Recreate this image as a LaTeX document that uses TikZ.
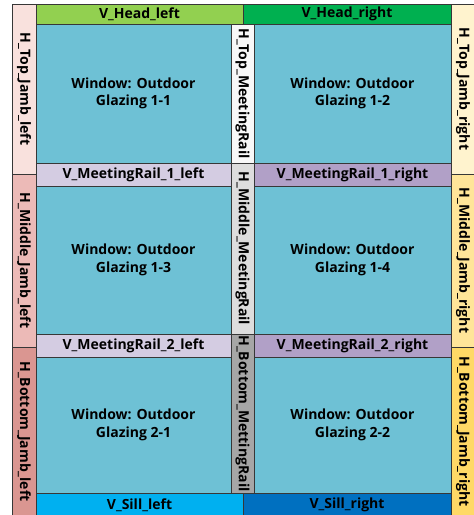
\documentclass[tikz,border=0pt]{standalone}
\usepackage{fontspec}
\usepackage{xcolor}
\usepackage{tikz}
\usetikzlibrary{positioning}
\newfontfamily\cellfont{Open Sans}
\definecolor{glass}{RGB}{110, 193, 213}
\definecolor{edgegray}{RGB}{55, 55, 55}
\definecolor{headleft}{RGB}{146, 208, 80}
\definecolor{headright}{RGB}{0, 176, 80}
\definecolor{sillleft}{RGB}{0, 176, 240}
\definecolor{sillright}{RGB}{0, 112, 192}
\definecolor{jambTopL}{RGB}{249, 225, 221}
\definecolor{jambMidL}{RGB}{236, 186, 183}
\definecolor{jambBotL}{RGB}{218, 150, 145}
\definecolor{jambTopR}{RGB}{255, 243, 206}
\definecolor{jambMidR}{RGB}{255, 229, 153}
\definecolor{jambBotR}{RGB}{255, 217, 102}
\definecolor{railTop}{RGB}{248, 248, 248}
\definecolor{railMid}{RGB}{221, 221, 221}
\definecolor{railBot}{RGB}{166, 166, 166}
\definecolor{railLavender}{RGB}{212, 204, 226}
\definecolor{railPurple}{RGB}{177, 160, 199}

\begin{document}
\begin{tikzpicture}[x=1pt, y=-1pt,
    cell/.style={draw=edgegray, line width=0.8pt, inner sep=0pt, align=center, text=black,
      font=\cellfont\bfseries\fontsize{14}{17.3}\selectfont},
    upright/.style={cell, rotate=-90}]
    \clip (0,0) rectangle (474,515);
    \fill[white] (0,0) rectangle (474,515);

    % Glazing panes
    \node[cell, fill=glass, minimum width=195pt, minimum height=139pt] (g11) at (133.5,93.5) {Window: Outdoor\\Glazing 1-1};
    \node[cell, fill=glass, minimum width=197pt, minimum height=139pt] (g12) at (352.5,93.5) {Window: Outdoor\\Glazing 1-2};
    \node[cell, fill=glass, minimum width=195pt, minimum height=148pt] (g13) at (133.5,260) {Window: Outdoor\\Glazing 1-3};
    \node[cell, fill=glass, minimum width=197pt, minimum height=148pt] (g14) at (352.5,260) {Window: Outdoor\\Glazing 1-4};
    \node[cell, fill=glass, minimum width=195pt, minimum height=136pt] (g21) at (133.5,425) {Window: Outdoor\\Glazing 2-1};
    \node[cell, fill=glass, minimum width=197pt, minimum height=136pt] (g22) at (352.5,425) {Window: Outdoor\\Glazing 2-2};

    % Horizontal meeting rails
    \node[cell, fill=railLavender, minimum width=195pt, minimum height=23pt] (mr1L) at (133.5,174.5) {V\_MeetingRail\_1\_left};
    \node[cell, fill=railPurple, minimum width=197pt, minimum height=23pt] (mr1R) at (352.5,174.5) {V\_MeetingRail\_1\_right};
    \node[cell, fill=railLavender, minimum width=195pt, minimum height=23pt] (mr2L) at (133.5,345.5) {V\_MeetingRail\_2\_left};
    \node[cell, fill=railPurple, minimum width=197pt, minimum height=23pt] (mr2R) at (352.5,345.5) {V\_MeetingRail\_2\_right};

    % Vertical meeting rails
    \node[upright, fill=railTop, minimum width=139pt, minimum height=23pt] (railT) at (242.5,93.5) {H\_Top\_MeetingRail};
    \node[upright, fill=railMid, minimum width=171pt, minimum height=23pt] (railM) at (242.5,248.5) {H\_Middle\_MeetingRail};
    \node[upright, fill=railBot, minimum width=159pt, minimum height=23pt] (railB) at (242.5,413.5) {H\_Bottom\_MettingRail};

    % Head and sill
    \node[cell, fill=headleft, minimum width=207pt, minimum height=20pt] (headL) at (139.5,14) {V\_Head\_left};
    \node[cell, fill=headright, minimum width=208pt, minimum height=20pt] (headR) at (347,14) {V\_Head\_right};
    \node[cell, fill=sillleft, minimum width=207pt, minimum height=24pt] (sillL) at (139.5,505) {V\_Sill\_left};
    \node[cell, fill=sillright, minimum width=208pt, minimum height=24pt] (sillR) at (347,505) {V\_Sill\_right};

    % Jambs
    \node[upright, fill=jambTopL, minimum width=170pt, minimum height=24pt] (jambTL) at (24,89) {H\_Top\_Jamb\_left};
    \node[upright, fill=jambMidL, minimum width=173pt, minimum height=24pt] (jambML) at (24,260.5) {H\_Middle\_Jamb\_left};
    \node[upright, fill=jambBotL, minimum width=169pt, minimum height=24pt] (jambBL) at (24,431.5) {H\_Bottom\_Jamb\_left};
    \node[upright, fill=jambTopR, minimum width=170pt, minimum height=24pt] (jambTR) at (463,89) {H\_Top\_Jamb\_right};
    \node[upright, fill=jambMidR, minimum width=173pt, minimum height=24pt] (jambMR) at (463,260.5) {H\_Middle\_Jamb\_right};
    \node[upright, fill=jambBotR, minimum width=169pt, minimum height=24pt] (jambBR) at (463,431.5) {H\_Bottom\_Jamb\_right};
\end{tikzpicture}
\end{document}
